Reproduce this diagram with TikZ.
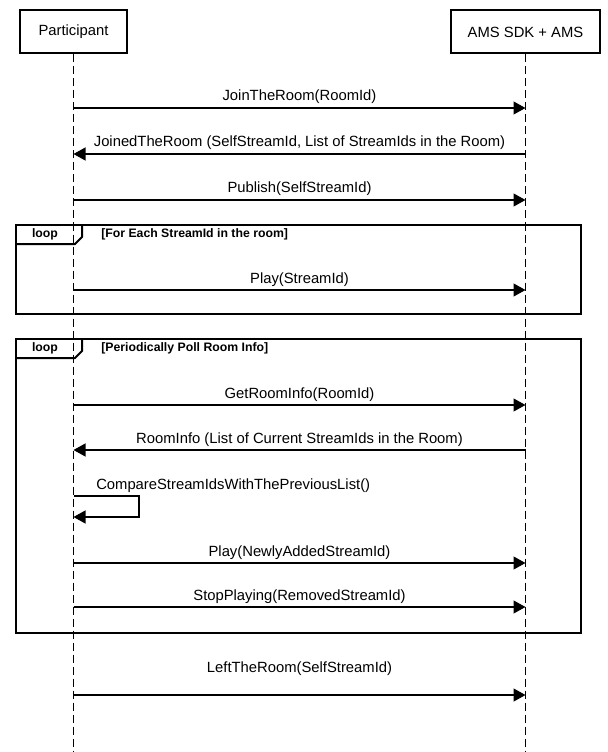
\documentclass[tikz,border=0pt]{standalone}
\usepackage{fontspec}
\setmainfont{Liberation Sans}
\usetikzlibrary{arrows.meta,calc}
\tikzset{
  actor/.style={draw, line width=1.5pt, minimum height=32.25pt, inner sep=0pt},
  life/.style={line width=0.75pt, dash pattern=on 6pt off 3pt},
  msg/.style={->, line width=0.9pt},
  frame/.style={line width=1.5pt},
  looptag/.style={font=\bfseries\fontsize{9.2}{11}\selectfont},
}
\begin{document}
\begin{tikzpicture}[x=0.75pt, y=-0.75pt, font=\fontsize{11.1}{13}\selectfont, line join=miter, >={Triangle[length=9pt,width=9.75pt]}]
				\useasboundingbox (0,0) rectangle (607,752);
				\node[actor, minimum width=80.25pt] (P) at (73.5,32) {Participant};
				\node[actor, minimum width=111.75pt] (A) at (525.5,32) {AMS SDK + AMS};
				\path
				(73.5,752) coordinate (Pend)
				(525.5,752) coordinate (Aend)
				(16,225) coordinate (L1)
				(581,314) coordinate (R1)
				(16,339) coordinate (L2)
				(581,633) coordinate (R2)
				(P |- 0,496) coordinate (C1)
				(139,496) coordinate (C2)
				(139,517) coordinate (C3)
				(P |- 0,517) coordinate (C4)
				;
				\draw[life] (P)--(Pend);
				\draw[life] (A)--(Aend);
				% loop frames
				\foreach \f/\t in {1/{[For Each StreamId in the room]}, 2/{[Periodically Poll Room Info]}} {
					\draw[frame] (L\f) rectangle (R\f);
					\draw[frame] ($(L\f)+(0,19)$)--++(59,0)--++(7,-7)--++(0,-12);
					\node[looptag] at ($(L\f)+(29,9.5)$) {loop};
					\node[looptag, anchor=west, inner sep=0pt] at ($(L\f)+(85,9.5)$) {\t};
				}
				% messages
				\foreach \y/\s/\e/\t/\h in {108/p/a/{JoinTheRoom(RoomId)}/5.25,
					154/a/p/{JoinedTheRoom (SelfStreamId, List of StreamIds in the Room)}/5.25,
					200/p/a/{Publish(SelfStreamId)}/5.25,
					290/p/a/{Play(StreamId)}/5.25,
					405/p/a/{GetRoomInfo(RoomId)}/5.25,
					450/a/p/{RoomInfo (List of Current StreamIds in the Room)}/5.25,
					563/p/a/{Play(NewlyAddedStreamId)}/5.25,
					607/p/a/{StopPlaying(RemovedStreamId)}/5.25,
					695/p/a/{LeftTheRoom(SelfStreamId)}/17.25} {
					\path (P |- 0,\y) coordinate (p\y) (A |- 0,\y) coordinate (a\y);
					\draw[msg] (\s\y)--(\e\y) node[midway, anchor=base, yshift=\h pt]{\t};
				}
				\draw[msg] (C1)--(C2)--(C3)--(C4);
				\node[anchor=base west, inner sep=0pt] at (96,489) {CompareStreamIdsWithThePreviousList()};
			\end{tikzpicture}
\end{document}
